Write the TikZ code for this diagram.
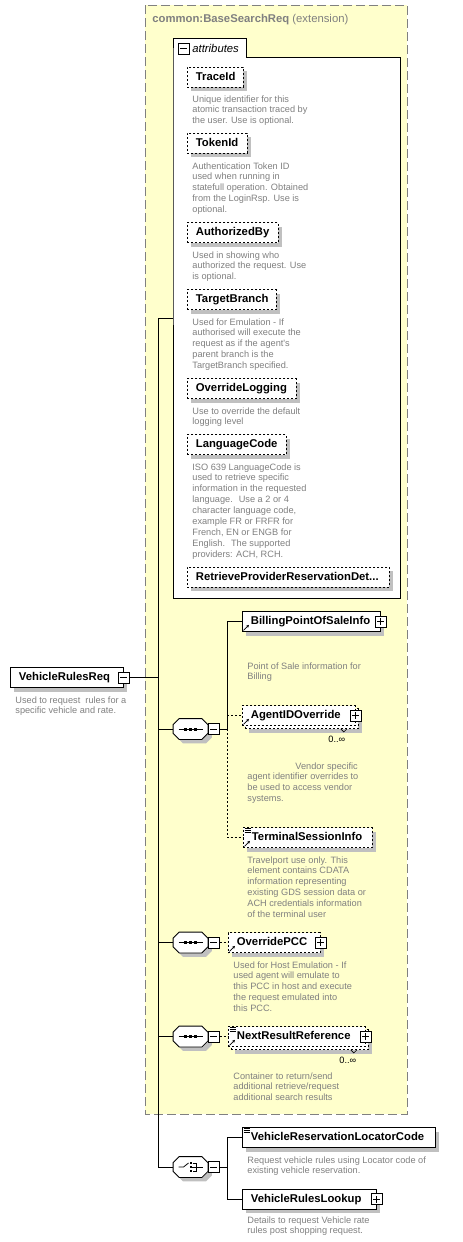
\documentclass[tikz,border=0pt]{standalone}
\usepackage{fontspec}
\setmainfont{Liberation Sans}
\usetikzlibrary{shadows,arrows.meta}

\definecolor{extyellow}{HTML}{FFFFCC}
\definecolor{notegray}{HTML}{808080}
\definecolor{shadowgray}{HTML}{C0C0C0}

\newcommand\namefont{\fontsize{11.3}{13}\selectfont\bfseries}
\newcommand\notefont{\fontsize{9.2}{10.9}\selectfont}

% outline of a compositor, moved by (#2,#3)
\newcommand\octagon[3]{([shift={(6pt+#2,#3)}]#1.north west) -- ([shift={(-6pt+#2,#3)}]#1.north east)
  -- ([shift={(#2,-6pt+#3)}]#1.north east) -- ([shift={(#2,6pt+#3)}]#1.south east)
  -- ([shift={(-6pt+#2,#3)}]#1.south east) -- ([shift={(6pt+#2,#3)}]#1.south west)
  -- ([shift={(#2,6pt+#3)}]#1.south west) -- ([shift={(#2,-6pt+#3)}]#1.north west) -- cycle}
\newcommand\compositorbox[1]{%
  \fill[shadowgray] \octagon{#1}{4pt}{-4pt};
  \draw[fill=white] \octagon{#1}{0pt}{0pt};}
\newcommand\seqmark[1]{%
  \draw ([xshift=-12pt]#1.center) -- ([xshift=12pt]#1.center);
  \foreach \dx in {-5,0,5}
    \fill ([shift={(\dx pt-1.5pt,-1.5pt)}]#1.center) rectangle +(3pt,3pt);}
\newcommand\choicemark[1]{%
  \draw ([xshift=-12pt]#1.center) -- ([xshift=-7pt]#1.center) -- ([shift={(-2pt,4pt)}]#1.center);
  \foreach \dy in {-4,0,4}
    \fill ([shift={(-1pt,\dy pt-1pt)}]#1.center) rectangle +(2.5pt,2.5pt);
  \draw ([shift={(2pt,4pt)}]#1.center) -- ([shift={(6pt,4pt)}]#1.center)
    -- ([shift={(6pt,-4pt)}]#1.center) -- ([shift={(2pt,-4pt)}]#1.center);
  \draw ([xshift=1.5pt]#1.center) -- ([xshift=12pt]#1.center);}
\newcommand\refarrow[1]{%
  \draw[line width=0.8pt,-{Stealth[length=3pt,width=3pt]}]
    ([shift={(1.5pt,1.5pt)}]#1.south west) -- ([shift={(7pt,7pt)}]#1.south west);}
\newcommand\listmark[1]{%
  \foreach \dy in {1.5,3.5,5.5}
    \draw[line width=0.6pt] ([shift={(1.5pt,-\dy pt)}]#1.north west) -- ++(6pt,0);}

\tikzset{
  elem/.style={draw, fill=white, font=\namefont, anchor=west, align=left,
    line width=0.8pt, minimum height=20pt, inner xsep=8.5pt, inner ysep=0pt,
    text height=8.5pt, text depth=2.5pt},
  withshadow/.style={drop shadow={shadow xshift=4pt, shadow yshift=-4pt,
    fill=shadowgray, opacity=1}},
  optional/.style={dash pattern=on 2pt off 2pt},
  % placed at the baseline of the last line
  note/.style={font=\notefont, text=notegray, anchor=base west, align=left, inner sep=0pt},
  mult/.style={font=\notefont, anchor=base west, inner sep=0pt},
  compositor/.style={minimum width=34pt, minimum height=20pt, inner sep=0pt},
  pmbox/.style={draw, fill=white, line width=0.8pt, minimum size=11pt, inner sep=0pt},
  minusbox/.style={pmbox, path picture={
    \draw[line width=0.8pt] ([xshift=-3.5pt]path picture bounding box.center)
      -- ([xshift=3.5pt]path picture bounding box.center);}},
  plusbox/.style={pmbox, path picture={
    \draw[line width=0.8pt] ([xshift=-3.5pt]path picture bounding box.center)
      -- ([xshift=3.5pt]path picture bounding box.center)
      ([yshift=-3.5pt]path picture bounding box.center)
      -- ([yshift=3.5pt]path picture bounding box.center);}}
}

\begin{document}
\begin{tikzpicture}[x=1pt,y=-1pt,line width=0.8pt]
  \useasboundingbox (0,0) rectangle (463,1242);
  %
  % extension of the base type
  \draw[notegray, line width=1pt, dash pattern=on 9pt off 4pt, fill=extyellow]
    (145,5) rectangle (407,1114);
  \node[anchor=base west, inner sep=0pt, font=\fontsize{11.3}{13}\selectfont, text=notegray]
    (title) at (152,23) {\textbf{common:BaseSearchReq} (extension)};
  %
  % attributes
  \draw[fill=white] (173,57) -- (173,38) -- (246,38) -- (246,57) -- (400,57)
    -- (400,598) -- (173,598) -- cycle;
  \node[minusbox] (attrtoggle) at (183.5,48.5) {};
  \node[anchor=base west, inner sep=0pt, font=\fontsize{11.3}{13}\selectfont\itshape]
    (attrlabel) at (192,52) {attributes};
  \coordinate (attrlink) at (173,318);

  \node[elem, optional, withshadow, text width=39pt] (traceid) at (187,77) {TraceId};
  \node[note] (traceidnote) at (192,123.8) {Unique identifier for this\\atomic transaction traced by\\the user. Use is optional.};
  \node[elem, optional, withshadow, text width=43pt] (tokenid) at (187,143) {TokenId};
  \node[note] (tokenidnote) at (192,212.6) {Authentication Token ID\\used when running in\\statefull operation. Obtained\\from the LoginRsp. Use is\\optional.};
  \node[elem, optional, withshadow, text width=74pt] (authby) at (187,232.5) {AuthorizedBy};
  \node[note] (authbynote) at (192,279.8) {Used in showing who\\authorized the request. Use\\is optional.};
  \node[elem, optional, withshadow, text width=72pt] (branch) at (187,299.5) {TargetBranch};
  \node[note] (branchnote) at (192,368.6) {Used for Emulation - If\\authorised will execute the\\request as if the agent\textquotesingle s\\parent branch is the\\TargetBranch specified.};
  \node[elem, optional, withshadow, text width=92pt] (logging) at (187,388.5) {OverrideLogging};
  \node[note] (loggingnote) at (192,424.9) {Use to override the default\\logging level};
  \node[elem, optional, withshadow, text width=82pt] (langcode) at (187,444.5) {LanguageCode};
  \node[note] (langcodenote) at (192,557.2) {ISO 639 LanguageCode is\\used to retrieve specific\\information in the requested\\language.~ Use a 2 or 4\\character language code,\\example FR or FRFR for\\French, EN or ENGB for\\English.~ The supported\\providers: ACH, RCH.};
  \node[elem, optional, withshadow, text width=185pt] (retrieve) at (187,577) {RetrieveProviderReservationDet...};
  %
  % the element itself
  \node[elem, withshadow, text width=96pt] (req) at (10,677.5) {VehicleRulesReq};
  \node[minusbox] (reqtoggle) at (req.east) {};
  \node[note] (reqnote) at (15,713.9) {Used to request~ rules for a\\specific vehicle and rate.};
  \coordinate (hub) at (158,677.5);
  %
  % first sequence
  \node[compositor] (seqA) at (190.5,729) {};
  \compositorbox{seqA}
  \seqmark{seqA}
  \node[minusbox, anchor=west] (seqAtoggle) at (seqA.east) {};
  \coordinate (forkA) at (227,729);

  \node[elem, withshadow, text width=121pt] (billing) at (242,621.5) {BillingPointOfSaleInfo};
  \node[plusbox] (billingtoggle) at (billing.east) {};
  \refarrow{billing}
  \node[note] (billingnote) at (247,679.9) {Point of Sale information for\\Billing};

  \node[elem, optional, withshadow, text width=96pt] (agentback) at (245,718.5) {\phantom{AgentIDOverride}};
  \node[elem, optional, text width=96pt] (agent) at (242,715.5) {AgentIDOverride};
  \node[plusbox] (agenttoggle) at (agent.east) {};
  \refarrow{agent}
  \draw[line width=0.6pt] ([xshift=-18pt]agentback.south east) -- ++(3pt,-3pt) -- ++(3pt,3pt);
  \node[mult] (agentmult) at (328,742) {0..∞};
  \node[note] (agentnote) at (247,801.7) {\hspace*{48pt}Vendor specific\\agent identifier overrides to\\be used to access vendor\\systems.};

  \node[elem, optional, withshadow, text width=112pt] (terminal) at (243,837.5) {TerminalSessionInfo};
  \listmark{terminal}
  \refarrow{terminal}
  \node[note] (terminalnote) at (247,917.5) {Travelport use only. This\\element contains CDATA\\information representing\\existing GDS session data or\\ACH credentials information\\of the terminal user};

  \draw (seqAtoggle.east) -- (forkA);
  \draw (forkA) -- (forkA |- billing.west) -- (billing.west);
  \draw[optional] (forkA) -- (forkA |- terminal.west) -- (terminal.west);
  \draw[optional] (forkA |- agent.west) -- (agent.west);
  %
  % second sequence
  \node[compositor] (seqB) at (190.5,942.5) {};
  \compositorbox{seqB}
  \seqmark{seqB}
  \node[minusbox, anchor=west] (seqBtoggle) at (seqB.east) {};
  \node[elem, optional, withshadow, text width=75pt] (pcc) at (228,942.5) {OverridePCC};
  \node[plusbox] (pcctoggle) at (pcc.east) {};
  \refarrow{pcc}
  \node[note] (pccnote) at (233,1011.6) {Used for Host Emulation - If\\used agent will emulate to\\this PCC in host and execute\\the request emulated into\\this PCC.};
  \draw[optional] (seqBtoggle.east) -- (pcc.west);
  %
  % third sequence
  \node[compositor] (seqC) at (190.5,1036.5) {};
  \compositorbox{seqC}
  \seqmark{seqC}
  \node[minusbox, anchor=west] (seqCtoggle) at (seqC.east) {};
  \node[elem, optional, withshadow, text width=120pt] (nextrefback) at (231,1039.5) {\phantom{NextResultReference}};
  \node[elem, optional, text width=120pt] (nextref) at (228,1036.5) {NextResultReference};
  \node[plusbox] (nextreftoggle) at (nextref.east) {};
  \listmark{nextref}
  \refarrow{nextref}
  \draw[line width=0.6pt] ([xshift=-18pt]nextrefback.south east) -- ++(3pt,-3pt) -- ++(3pt,3pt);
  \node[mult] (nextrefmult) at (339,1063) {0..∞};
  \node[note] (nextrefnote) at (233,1100.8) {Container to return/send\\additional retrieve/request\\additional search results};
  \draw[optional] (seqCtoggle.east) -- (nextref.west);
  %
  % choice
  \node[compositor] (choice) at (190.5,1167) {};
  \compositorbox{choice}
  \choicemark{choice}
  \node[minusbox, anchor=west] (choicetoggle) at (choice.east) {};
  \coordinate (forkD) at (227,1167);
  \node[elem, withshadow, text width=176pt] (locator) at (242,1137.5) {VehicleReservationLocatorCode};
  \listmark{locator}
  \node[note] (locatornote) at (247,1173.9) {Request vehicle rules using Locator code of\\existing vehicle reservation.};
  \node[elem, withshadow, text width=117pt] (lookup) at (242,1199) {VehicleRulesLookup};
  \node[plusbox] (lookuptoggle) at (lookup.east) {};
  \node[note] (lookupnote) at (247,1233.9) {Details to request Vehicle rate\\rules post shopping request.};
  \draw (choicetoggle.east) -- (forkD);
  \draw (locator.west) -- (forkD |- locator.west) -- (forkD |- lookup.west) -- (lookup.west);
  %
  % spine
  \draw (reqtoggle.east) -- (hub);
  \draw (attrlink -| hub) -- (choice.west -| hub);
  \draw (attrlink -| hub) -- (attrlink);
  \draw (seqA.west -| hub) -- (seqA.west);
  \draw (seqB.west -| hub) -- (seqB.west);
  \draw (seqC.west -| hub) -- (seqC.west);
  \draw (choice.west -| hub) -- (choice.west);
\end{tikzpicture}
\end{document}
